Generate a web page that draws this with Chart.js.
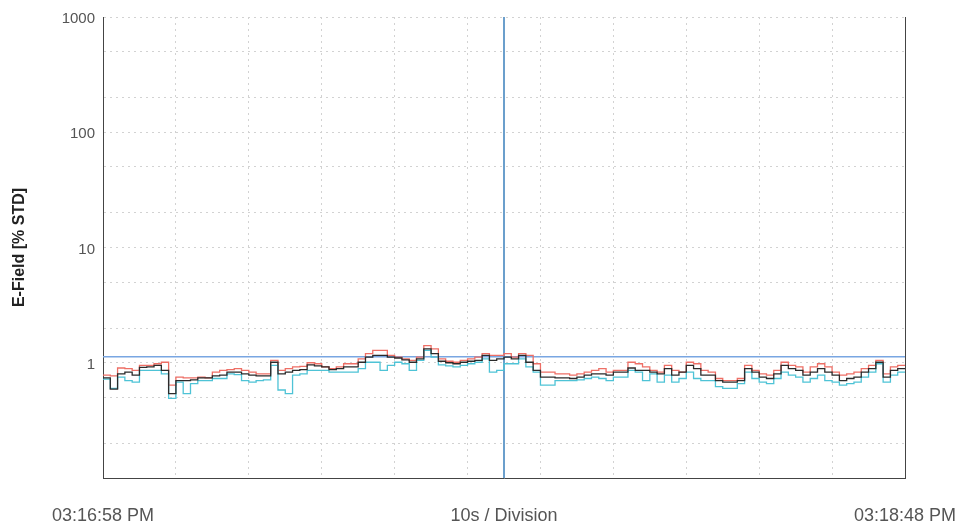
<!DOCTYPE html>
<html>
<head>
<meta charset="utf-8">
<script src="https://cdn.jsdelivr.net/npm/chart.js@4.4.1/dist/chart.umd.min.js"></script>
<style>
  html, body { margin: 0; padding: 0; background: #fff; }
  #wrap { width: 959px; height: 523px; position: relative; }
</style>
</head>
<body>
<div id="wrap"><canvas id="efield"></canvas></div>
<script>
// values, one per second (03:16:58 -> 03:18:48)
const redTrace = [
  0.78, 0.77, 0.90, 0.89, 0.86, 0.95, 0.95, 0.98, 1.01, 0.64,
  0.75, 0.74, 0.74, 0.75, 0.74, 0.83, 0.86, 0.87, 0.89, 0.86,
  0.83, 0.80, 0.80, 1.05, 0.86, 0.89, 0.92, 0.93, 1.00, 0.98,
  0.92, 0.89, 0.92, 0.98, 0.98, 1.08, 1.20, 1.28, 1.28, 1.16,
  1.12, 1.08, 1.05, 1.12, 1.41, 1.32, 1.08, 1.03, 1.01, 1.05,
  1.08, 1.12, 1.20, 1.16, 1.16, 1.20, 1.12, 1.20, 1.16, 0.98,
  0.83, 0.83, 0.80, 0.80, 0.78, 0.80, 0.83, 0.86, 0.89, 0.83,
  0.86, 0.86, 1.01, 0.98, 0.92, 0.86, 0.83, 0.95, 0.86, 0.83,
  1.01, 0.98, 0.86, 0.83, 0.73, 0.70, 0.70, 0.73, 0.95, 0.86,
  0.80, 0.78, 0.86, 1.01, 0.95, 0.92, 0.83, 0.92, 0.98, 0.92,
  0.83, 0.78, 0.80, 0.83, 0.89, 0.95, 1.05, 0.80, 0.92, 0.95
];
const blackTrace = [
  0.74, 0.59, 0.80, 0.83, 0.78, 0.91, 0.92, 0.95, 0.86, 0.54,
  0.70, 0.70, 0.71, 0.74, 0.74, 0.77, 0.78, 0.83, 0.83, 0.80,
  0.78, 0.77, 0.77, 1.01, 0.80, 0.83, 0.86, 0.87, 0.96, 0.94,
  0.92, 0.87, 0.89, 0.92, 0.92, 1.01, 1.12, 1.16, 1.16, 1.12,
  1.10, 1.06, 1.01, 1.08, 1.32, 1.20, 1.03, 1.00, 0.98, 1.01,
  1.03, 1.05, 1.16, 1.05, 1.08, 1.12, 1.08, 1.16, 1.01, 0.86,
  0.75, 0.75, 0.74, 0.74, 0.73, 0.75, 0.78, 0.80, 0.80, 0.78,
  0.83, 0.83, 0.90, 0.86, 0.86, 0.83, 0.80, 0.89, 0.78, 0.83,
  0.95, 0.89, 0.78, 0.78, 0.70, 0.68, 0.68, 0.70, 0.89, 0.83,
  0.75, 0.73, 0.80, 0.95, 0.89, 0.86, 0.78, 0.83, 0.89, 0.83,
  0.78, 0.70, 0.73, 0.75, 0.83, 0.89, 1.01, 0.75, 0.86, 0.89
];
const cyanTrace = [
  0.72, 0.60, 0.75, 0.70, 0.68, 0.86, 0.86, 0.86, 0.80, 0.49,
  0.68, 0.54, 0.66, 0.70, 0.70, 0.73, 0.73, 0.80, 0.79, 0.70,
  0.68, 0.70, 0.71, 0.95, 0.58, 0.54, 0.78, 0.80, 0.86, 0.86,
  0.86, 0.83, 0.83, 0.83, 0.83, 0.89, 1.01, 1.01, 0.86, 0.95,
  1.01, 0.98, 0.86, 1.05, 1.28, 1.12, 0.96, 0.94, 0.92, 0.95,
  0.98, 1.01, 1.08, 0.83, 0.86, 0.98, 0.98, 1.08, 0.92, 0.83,
  0.64, 0.64, 0.70, 0.70, 0.70, 0.71, 0.73, 0.75, 0.73, 0.70,
  0.75, 0.75, 0.86, 0.83, 0.70, 0.80, 0.68, 0.78, 0.68, 0.73,
  0.83, 0.73, 0.70, 0.70, 0.62, 0.60, 0.60, 0.66, 0.83, 0.73,
  0.68, 0.66, 0.73, 0.83, 0.78, 0.75, 0.68, 0.73, 0.78, 0.70,
  0.68, 0.64, 0.66, 0.68, 0.75, 0.83, 0.98, 0.68, 0.78, 0.83
];

const spanSeconds = 110;
const cursorTime = 55;
const cursorLevel = 1.13;
const yGrid = [0.1, 0.2, 0.5, 1, 2, 5, 10, 20, 50, 100, 200, 500, 1000];
const yLabels = [1, 10, 100, 1000];
const xGrid = [0, 10, 20, 30, 40, 50, 55, 60, 70, 80, 90, 100, 110];
const xLabels = { 0: "03:16:58 PM", 55: "10s / Division", 110: "03:18:48 PM" };

function toSteps(vals) {
  const pts = vals.map((v, i) => ({ x: i, y: v }));
  pts.push({ x: spanSeconds, y: vals[vals.length - 1] });
  return pts;
}

function trace(label, vals, color) {
  return {
    label: label,
    data: toSteps(vals),
    borderColor: color,
    borderWidth: 1.3,
    stepped: true,
    pointRadius: 0,
    fill: false
  };
}

const family = "'Liberation Sans', Arial, sans-serif";

new Chart(document.getElementById("efield"), {
  type: "line",
  data: {
    datasets: [
      trace("black", blackTrace, "#2b2b2b"),
      trace("cyan", cyanTrace, "#4ec3d6"),
      trace("red", redTrace, "#ee6f66"),
      {
        label: "level",
        data: [{ x: 0, y: cursorLevel }, { x: spanSeconds, y: cursorLevel }],
        borderColor: "#79a6e2",
        borderWidth: 1.5,
        pointRadius: 0
      },
      {
        label: "cursor",
        data: [{ x: cursorTime, y: 0.1 }, { x: cursorTime, y: 1000 }],
        borderColor: "#6b9fcc",
        borderWidth: 2,
        pointRadius: 0
      }
    ]
  },
  options: {
    responsive: true,
    maintainAspectRatio: false,
    animation: false,
    layout: { padding: { top: 17, right: 0, left: 0, bottom: 0 } },
    plugins: { legend: { display: false }, tooltip: { enabled: false } },
    scales: {
      x: {
        type: "linear",
        min: 0,
        max: spanSeconds,
        afterBuildTicks: s => { s.ticks = xGrid.map(v => ({ value: v })); },
        afterFit: s => { s.height = 45; },
        ticks: {
          autoSkip: false,
          maxRotation: 0,
          padding: 1,
          color: "#555",
          font: { family: family, size: 18 },
          callback: v => xLabels[v] || ""
        },
        grid: {
          drawTicks: true,
          tickLength: 26,
          tickColor: "rgba(0,0,0,0)",
          color: c => (c.tick && c.tick.value === cursorTime) ? "rgba(0,0,0,0)" : "#d2d2d2"
        },
        border: { color: "#444", width: 1, dash: [2, 4] }
      },
      y: {
        type: "logarithmic",
        min: 0.1,
        max: 1000,
        afterBuildTicks: s => { s.ticks = yGrid.map(v => ({ value: v })); },
        afterFit: s => { s.width = 103; },
        ticks: {
          autoSkip: false,
          padding: 8,
          labelOffset: 2,
          color: "#555",
          font: { family: family, size: 15 },
          callback: v => yLabels.includes(v) ? String(v) : ""
        },
        grid: { drawTicks: false, color: "#d2d2d2" },
        border: { color: "#444", width: 1, dash: [2, 4] },
        title: {
          display: true,
          text: "E-Field [% STD]",
          color: "#222",
          padding: { top: 10, bottom: 0 },
          font: { family: family, size: 16, weight: "bold" }
        }
      },
      yRight: {
        type: "linear",
        position: "right",
        min: 0,
        max: 1,
        afterFit: s => { s.width = 54; },
        ticks: { display: false },
        grid: { display: false },
        border: { color: "#444", width: 1 }
      }
    }
  }
});
</script>
</body>
</html>
